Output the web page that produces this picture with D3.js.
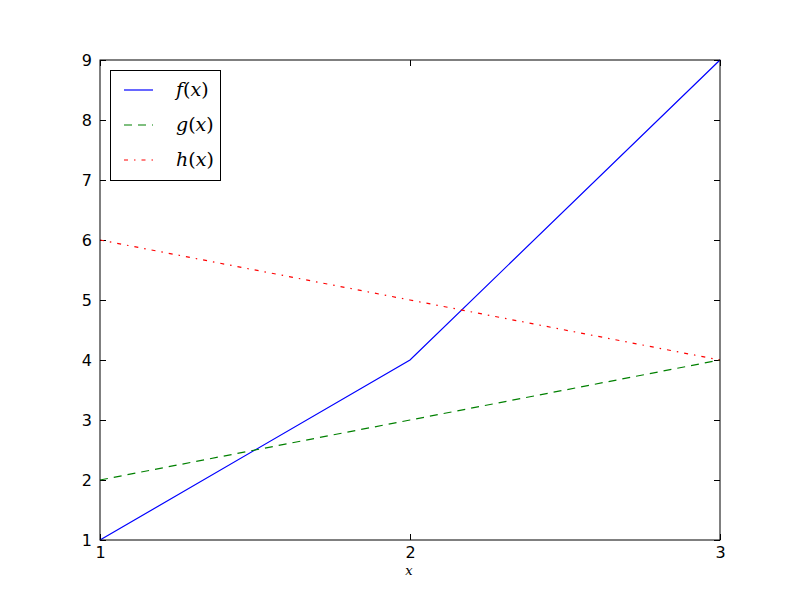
<!DOCTYPE html>
<html>
<head>
<meta charset="utf-8">
<script src="https://cdn.jsdelivr.net/npm/d3@7"></script>
<style>
  body { margin: 0; background: #fff; }
  svg { display: block; }
  .tick text { font-family: "DejaVu Sans", sans-serif; font-size: 16px; fill: #000; }
</style>
</head>
<body>
<div id="chart"></div>
<script>
// values
var xs = [1, 2, 3];
var fVals = [1, 4, 9];
var gVals = [2, 3, 4];
var hVals = [6, 5, 4];
var xTicks = [1, 2, 3];
var yTicks = [1, 2, 3, 4, 5, 6, 7, 8, 9];

var seriesNames = ["f", "g", "h"];
var seriesValues = [fVals, gVals, hVals];
var seriesColors = ["#0000ff", "#008000", "#ff0000"];
var seriesDash = [null, "8,6", "4,6,1.5,6"];

var width = 800, height = 600;
var plotLeft = 100, plotRight = 720, plotTop = 60, plotBottom = 540;

var svg = d3.select("#chart").append("svg")
	.attr("width", width)
	.attr("height", height);

var x = d3.scaleLinear().domain([1, 3]).range([plotLeft, plotRight]);
var y = d3.scaleLinear().domain([1, 9]).range([plotBottom, plotTop]);

// ticks on all four sides, pointing in
var tickLen = 6;
svg.append("g")
	.attr("transform", "translate(0," + plotBottom + ")")
	.call(d3.axisBottom(x).tickValues(xTicks).tickFormat(d3.format("d")).tickSizeInner(-tickLen).tickSizeOuter(0).tickPadding(7))
	.call(function(g) { g.select(".domain").remove(); });
svg.append("g")
	.attr("transform", "translate(0," + plotTop + ")")
	.call(d3.axisTop(x).tickValues(xTicks).tickFormat("").tickSizeInner(-tickLen).tickSizeOuter(0))
	.call(function(g) { g.select(".domain").remove(); });
svg.append("g")
	.attr("transform", "translate(" + plotLeft + ",0)")
	.call(d3.axisLeft(y).tickValues(yTicks).tickFormat(d3.format("d")).tickSizeInner(-tickLen).tickSizeOuter(0).tickPadding(8))
	.call(function(g) { g.select(".domain").remove(); });
svg.append("g")
	.attr("transform", "translate(" + plotRight + ",0)")
	.call(d3.axisRight(y).tickValues(yTicks).tickFormat("").tickSizeInner(-tickLen).tickSizeOuter(0))
	.call(function(g) { g.select(".domain").remove(); });

svg.selectAll(".tick line").attr("stroke", "#000");

var line = d3.line()
	.x(function(d, i) { return x(xs[i]); })
	.y(function(d) { return y(d); });

seriesValues.forEach(function(vals, i) {
	svg.append("path")
		.datum(vals)
		.attr("d", line)
		.attr("fill", "none")
		.attr("stroke", seriesColors[i])
		.attr("stroke-width", 1.2)
		.attr("stroke-dasharray", seriesDash[i]);
});

// frame
svg.append("rect")
	.attr("x", plotLeft).attr("y", plotTop)
	.attr("width", plotRight - plotLeft).attr("height", plotBottom - plotTop)
	.attr("fill", "none").attr("stroke", "#000").attr("stroke-width", 1);

// x label
svg.append("text")
	.attr("x", (plotLeft + plotRight) / 2 - 1)
	.attr("y", 575)
	.attr("text-anchor", "middle")
	.attr("font-family", "'DejaVu Serif', serif")
	.attr("font-style", "italic")
	.attr("font-size", 13)
	.text("x");

// legend
var legend = svg.append("g");
legend.append("rect")
	.attr("x", 110.5).attr("y", 70.5)
	.attr("width", 110).attr("height", 110)
	.attr("fill", "#fff").attr("stroke", "#000").attr("stroke-width", 1);

seriesNames.forEach(function(name, i) {
	var ly = 90 + i * 35;
	legend.append("line")
		.attr("x1", 124).attr("x2", 153)
		.attr("y1", ly).attr("y2", ly)
		.attr("stroke", seriesColors[i])
		.attr("stroke-width", 1.2)
		.attr("stroke-dasharray", seriesDash[i]);
	var t = legend.append("text")
		.attr("x", 176)
		.attr("y", ly + 6)
		.attr("font-family", "'DejaVu Serif', serif")
		.attr("font-size", 19);
	t.append("tspan").attr("font-style", "italic").text(name);
	t.append("tspan").text("(");
	t.append("tspan").attr("font-style", "italic").text("x");
	t.append("tspan").text(")");
});
</script>
</body>
</html>
